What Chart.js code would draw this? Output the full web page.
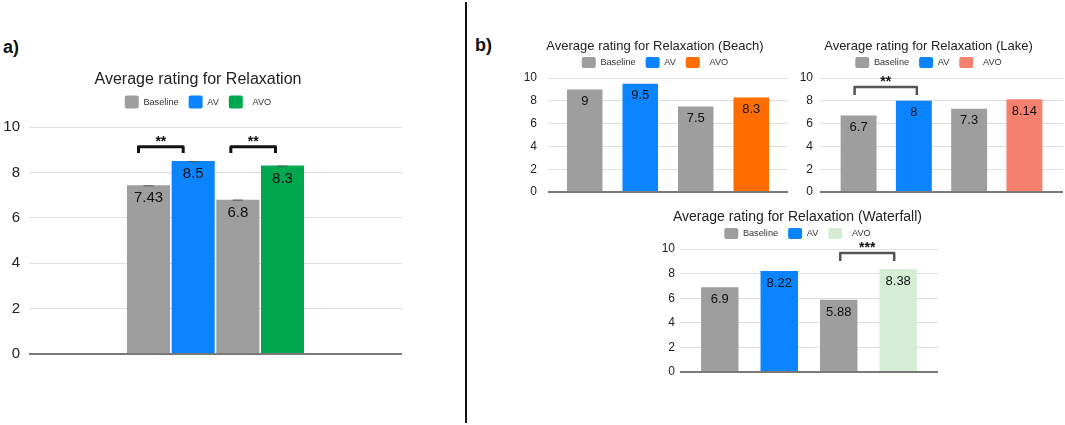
<!DOCTYPE html>
<html lang="en">
<head>
<meta charset="UTF-8">
<title>Average rating for Relaxation</title>
<script src="https://cdn.jsdelivr.net/npm/chart.js@4.4.0/dist/chart.umd.min.js"></script>
<style>
  body { margin: 0; background: #fff; }
  #page { position: relative; width: 1065px; height: 425px; overflow: hidden; font-family: "Liberation Sans", Arial, sans-serif; }
  canvas { position: absolute; }
  .tag { position: absolute; font-weight: bold; font-size: 18px; line-height: 20px; color: #111; }
  #divider { position: absolute; left: 465px; top: 2px; width: 2px; height: 421px; background: #111; }
</style>
</head>
<body>
<div id="page">
  <div class="tag" style="left:3px;top:37px">a)</div>
  <div class="tag" style="left:475px;top:35px">b)</div>
  <div id="divider"></div>
  <canvas id="chartAll" width="408" height="310" style="left:-6px;top:55px"></canvas>
  <canvas id="chartBeach" width="266" height="170" style="left:522px;top:30px"></canvas>
  <canvas id="chartLake" width="269" height="170" style="left:794px;top:30px"></canvas>
  <canvas id="chartWaterfall" width="281" height="182" style="left:657px;top:198px"></canvas>
</div>
<script>
// values
const seriesNames = ['Baseline', 'AV', 'Baseline', 'AVO'];
const relaxAll = [7.43, 8.5, 6.8, 8.3];
const relaxBeach = [9, 9.5, 7.5, 8.3];
const relaxLake = [6.7, 8, 7.3, 8.14];
const relaxWaterfall = [6.9, 8.22, 5.88, 8.38];
const yTicks = [0, 2, 4, 6, 8, 10];

const FONT = '"Liberation Sans", Arial, sans-serif';
Chart.defaults.font.family = FONT;

const GREY = '#9e9e9e';
const BLUE = '#0a84ff';

// numbers written just under the top of each bar
const valueLabels = {
    id: 'valueLabels',
    afterDatasetsDraw(chart, args, opts) {
        const ctx = chart.ctx;
        ctx.save();
        chart.data.datasets.forEach((ds, i) => {
            chart.getDatasetMeta(i).data.forEach((bar, j) => {
                if (opts.caps) {
                    ctx.strokeStyle = '#555';
                    ctx.lineWidth = 1;
                    ctx.beginPath();
                    ctx.moveTo(bar.x - 5, bar.y + 0.5);
                    ctx.lineTo(bar.x + 5, bar.y + 0.5);
                    ctx.stroke();
                }
                ctx.font = opts.size + 'px ' + FONT;
                ctx.fillStyle = '#111';
                ctx.textAlign = 'center';
                ctx.textBaseline = 'middle';
                ctx.fillText(String(ds.data[j]), bar.x, bar.y + opts.offset);
            });
        });
        ctx.restore();
    }
};

// significance brackets between two bars
const brackets = {
    id: 'brackets',
    afterDatasetsDraw(chart, args, opts) {
        if (!opts.items) return;
        const ctx = chart.ctx;
        const y = chart.scales.y;
        ctx.save();
        opts.items.forEach(b => {
            const x1 = chart.getDatasetMeta(b.from).data[0].x + b.dx1;
            const x2 = chart.getDatasetMeta(b.to).data[0].x + b.dx2;
            const yt = y.getPixelForValue(b.top);
            const yb = y.getPixelForValue(b.bottom);
            ctx.strokeStyle = opts.color;
            ctx.lineWidth = opts.width;
            ctx.lineJoin = 'round';
            ctx.beginPath();
            ctx.moveTo(x1, yb);
            ctx.lineTo(x1, yt);
            ctx.lineTo(x2, yt);
            ctx.lineTo(x2, yb);
            ctx.stroke();
            ctx.fillStyle = '#111';
            ctx.font = 'bold 14px ' + FONT;
            ctx.textAlign = 'center';
            ctx.textBaseline = 'alphabetic';
            ctx.fillText(b.text, (x1 + x2) / 2, yt - 1);
        });
        ctx.restore();
    }
};

function relaxChart(id, values, avoColor, o) {
    const colors = [GREY, BLUE, GREY, avoColor];
    return new Chart(document.getElementById(id), {
        type: 'bar',
        data: {
            labels: [''],
            datasets: seriesNames.map((name, i) => ({
                label: name === 'AVO' ? '  AVO' : name,
                data: [values[i]],
                backgroundColor: colors[i],
                borderWidth: 0,
                categoryPercentage: o.cat,
                barPercentage: o.bar
            }))
        },
        options: {
            responsive: false,
            animation: false,
            layout: { padding: 0 },
            scales: {
                x: { display: false },
                y: {
                    min: 0,
                    max: 10,
                    afterBuildTicks: s => { s.ticks = yTicks.map(v => ({ value: v })); },
                    afterFit: s => {
                        s.width = o.axisW;
                        s.paddingTop = o.padTop;
                        s.paddingBottom = o.padBottom;
                    },
                    ticks: { padding: o.tickPad, color: '#222', font: { size: o.tickSize } },
                    grid: {
                        drawTicks: false,
                        color: c => c.tick && c.tick.value === 0 ? '#7a7a7a' : '#dddddd',
                        lineWidth: c => c.tick && c.tick.value === 0 ? 2 : 1
                    },
                    border: { display: false }
                }
            },
            plugins: {
                title: {
                    display: true,
                    text: o.title,
                    color: '#222',
                    font: { size: o.titleSize, weight: 'normal', lineHeight: o.titleLH },
                    padding: { top: 0, bottom: o.tBottom }
                },
                // empty subtitle used as a gap between the legend and the plot
                subtitle: {
                    display: o.gap > 0,
                    text: '',
                    weight: 500,
                    font: { size: o.gap, lineHeight: 1 },
                    padding: 0
                },
                legend: {
                    labels: {
                        boxWidth: 14,
                        boxHeight: o.boxH,
                        color: '#333',
                        font: { size: 9.2 },
                        padding: 10,
                        useBorderRadius: true,
                        borderRadius: 2,
                        filter: item => item.datasetIndex !== 2
                    }
                },
                tooltip: { enabled: false },
                valueLabels: { size: o.labelSize, offset: o.labelOffset, caps: o.caps },
                brackets: { items: o.brackets, color: o.bracketColor, width: o.bracketWidth }
            }
        },
        plugins: [valueLabels, brackets]
    });
}

relaxChart('chartAll', relaxAll, '#00a84f', {
    title: 'Average rating for Relaxation', titleSize: 16, titleLH: 0.8, tBottom: 0, gap: 8.5,
    boxH: 13, axisW: 35, tickPad: 9, tickSize: 15, padTop: 72, padBottom: 11,
    cat: 0.479, bar: 0.964, labelSize: 15, labelOffset: 13, caps: true,
    brackets: [
        { from: 0, to: 1, top: 9.13, bottom: 8.85, dx1: -10, dx2: -10, text: '**' },
        { from: 2, to: 3, top: 9.13, bottom: 8.85, dx1: -7, dx2: -7, text: '**' }
    ],
    bracketColor: '#111', bracketWidth: 3
});

relaxChart('chartBeach', relaxBeach, '#ff6d00', {
    title: 'Average rating for Relaxation (Beach)', titleSize: 13, titleLH: 1, tBottom: -5.5, gap: 0,
    boxH: 11, axisW: 26, tickPad: 11, tickSize: 12, padTop: 48, padBottom: 8,
    cat: 0.925, bar: 0.64, labelSize: 13, labelOffset: 12, caps: false
});

relaxChart('chartLake', relaxLake, '#f6806e', {
    title: 'Average rating for Relaxation (Lake)', titleSize: 13, titleLH: 1, tBottom: -5.5, gap: 0,
    boxH: 11, axisW: 26, tickPad: 7, tickSize: 12, padTop: 48, padBottom: 8,
    cat: 0.91, bar: 0.65, labelSize: 13, labelOffset: 12, caps: false,
    brackets: [{ from: 0, to: 1, top: 9.2, bottom: 8.5, dx1: -4, dx2: 3, text: '**' }],
    bracketColor: '#555', bracketWidth: 2.5
});

relaxChart('chartWaterfall', relaxWaterfall, '#d4edd4', {
    title: 'Average rating for Relaxation (Waterfall)', titleSize: 14, titleLH: 1, tBottom: -6, gap: 0,
    boxH: 11, axisW: 23, tickPad: 5, tickSize: 12, padTop: 51, padBottom: 8,
    cat: 0.922, bar: 0.63, labelSize: 13, labelOffset: 12.5, caps: false,
    brackets: [{ from: 2, to: 3, top: 9.68, bottom: 9.03, dx1: 1.5, dx2: -4, text: '***' }],
    bracketColor: '#555', bracketWidth: 2.5
});
</script>
</body>
</html>
